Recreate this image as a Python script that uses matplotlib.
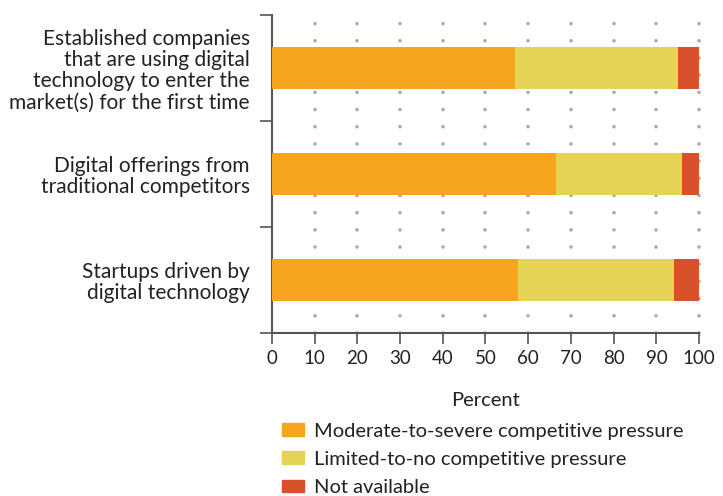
import matplotlib.pyplot as plt
from matplotlib.patches import Patch
import numpy as np

# ---- data ----
categories = [
    "Established companies\nthat are using digital\ntechnology to enter the\nmarket(s) for the first time",
    "Digital offerings from\ntraditional competitors",
    "Startups driven by\ndigital technology",
]
moderate = [57, 66.5, 57.5]
limited = [38, 29.5, 36.5]
not_avail = [5, 4, 6]
series_names = [
    "Moderate-to-severe competitive pressure",
    "Limited-to-no competitive pressure",
    "Not available",
]
xticks = list(range(0, 101, 10))

# ---- style ----
ORANGE = "#F7A51F"
YELLOW = "#E4D354"
RED = "#D9512B"
AXIS = "#555555"
DOT = "#AAAAAA"
TXT = "#222222"
FONT = "Lato"

plt.rcParams["font.family"] = [FONT, "DejaVu Sans"]

fig = plt.figure(figsize=(7.23, 4.96), dpi=100)
ax = fig.add_axes([0.376, 0.3286, 0.591, 0.6412])

# top category first
y = np.arange(len(categories))[::-1]
h = 0.4
left = np.zeros(len(categories))
for vals, col in zip([moderate, limited, not_avail], [ORANGE, YELLOW, RED]):
    ax.barh(y, vals, left=left, height=h, color=col, zorder=3)
    left = left + np.array(vals)

ax.set_xlim(0, 100)
ax.set_ylim(-0.5, len(categories) - 0.5)

# dotted vertical grid
for xv in xticks[1:]:
    ax.plot([xv, xv], [-0.5, len(categories) - 0.5], color=DOT, lw=2.6,
            linestyle=(0, (0.01, 4.75)), dash_capstyle="round", zorder=1,
            clip_on=False)

for s in ["top", "right"]:
    ax.spines[s].set_visible(False)
for s in ["left", "bottom"]:
    ax.spines[s].set_color(AXIS)
    ax.spines[s].set_linewidth(1.5)

ax.set_xticks(xticks)
ax.tick_params(axis="x", length=8, width=1.2, color=AXIS, labelsize=13.5,
               labelcolor=TXT, pad=4)
ax.set_yticks(y)
ax.set_yticklabels(categories, fontsize=15, color=TXT, linespacing=1.08)
ax.tick_params(axis="y", which="major", length=0, pad=16)
ax.set_yticks(np.arange(-0.5, len(categories), 1.0), minor=True)
ax.tick_params(axis="y", which="minor", length=9, width=1.2, color=AXIS)
for lab in ax.get_yticklabels():
    lab.set_horizontalalignment("right")
    lab.set_multialignment("right")

ax.set_xlabel("Percent", fontsize=14.5, color=TXT, labelpad=18)

handles = [Patch(color=c) for c in [ORANGE, YELLOW, RED]]
fig.legend(handles, series_names, loc="lower left", bbox_to_anchor=(0.365, -0.036),
           frameon=False, fontsize=14.5, handlelength=1.1, handleheight=0.55,
           handletextpad=0.5, labelspacing=0.55, labelcolor=TXT)

fig.savefig("out.png", dpi=100, facecolor="white")
